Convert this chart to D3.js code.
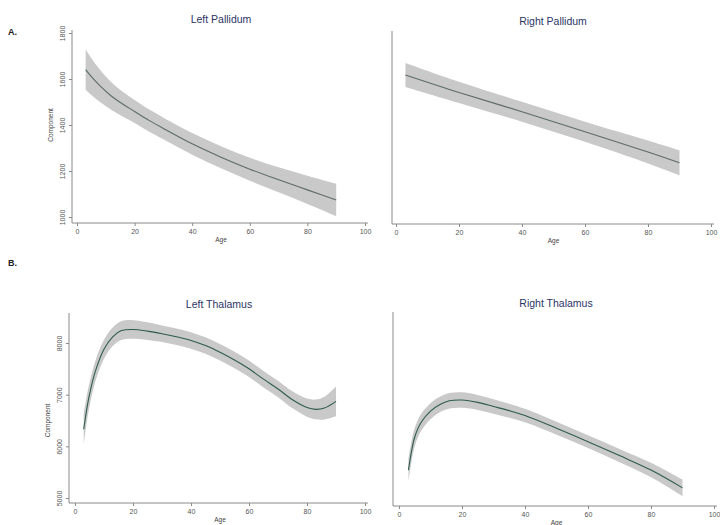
<!DOCTYPE html>
<html><head><meta charset="utf-8">
<script src="https://cdn.jsdelivr.net/npm/d3@7"></script>
<style>body{margin:0;background:#fff}svg{display:block}</style>
</head><body><svg id="c" width="720" height="525"></svg>
<script>
// ---- data ----
const xTicks = [0, 20, 40, 60, 80, 100];
const pallidumTicks = [1000, 1200, 1400, 1600, 1800];
const thalamusTicks = [5000, 6000, 7000, 8000];

const lpAge = [3, 5, 8, 12, 16, 20, 25, 30, 40, 50, 60, 70, 80, 90];
const lpFit = [1641, 1610, 1570, 1525, 1490, 1459, 1420, 1385, 1318, 1260, 1208, 1162, 1118, 1074];
const lpHalf = [88, 80, 70, 60, 54, 50, 48, 47, 47, 48, 50, 54, 61, 70];

const rpAge = [3, 20, 40, 60, 80, 90];
const rpFit = [1622, 1546, 1462, 1375, 1287, 1240];
const rpHalf = [52, 46, 43, 44, 50, 54];

const ltAge = [3, 4, 5, 7, 10, 13, 16, 20, 25, 30, 35, 40, 45, 50, 55, 60, 65, 70, 75, 80, 83, 86, 90];
const ltFit = [6330, 6700, 7000, 7450, 7880, 8120, 8240, 8262, 8230, 8180, 8120, 8050, 7950, 7820, 7670, 7500, 7300, 7110, 6900, 6750, 6715, 6740, 6870];
const ltHalf = [300, 260, 230, 200, 185, 180, 180, 180, 170, 160, 160, 160, 160, 160, 160, 160, 160, 160, 165, 175, 190, 220, 290];

const rtAge = [3, 4, 5, 7, 10, 13, 16, 20, 25, 30, 35, 40, 50, 60, 70, 80, 90];
const rtFit = [5560, 5930, 6200, 6480, 6700, 6830, 6900, 6915, 6870, 6790, 6710, 6615, 6370, 6110, 5840, 5560, 5215];
const rtHalf = [220, 200, 180, 165, 155, 150, 150, 150, 145, 140, 135, 130, 125, 125, 130, 140, 160];

// ---- drawing ----
const svg = d3.select("#c");
const font = "Liberation Sans, Arial, sans-serif";
const curve = d3.curveCatmullRom.alpha(0.5);

function panel(o) {
  const g = svg.append("g");
  const x = d3.scaleLinear().domain([0, 100]).range(o.xr);
  const y = d3.scaleLinear().domain(o.yd).range(o.yr);
  const pts = o.age.map((a, i) => ({a, f: o.fit[i], h: o.half[i]}));
  g.append("path").datum(pts)
    .attr("d", d3.area().curve(curve)
      .x(d => x(d.a)).y0(d => y(d.f - d.h)).y1(d => y(d.f + d.h)))
    .attr("fill", "#c9c9c9");
  g.append("path").datum(pts)
    .attr("d", d3.line().curve(curve).x(d => x(d.a)).y(d => y(d.f)))
    .attr("fill", "none").attr("stroke", o.lineColor).attr("stroke-width", 1.1);

  // x axis
  const xa = g.append("g").attr("transform", `translate(0,${o.xAxisY})`)
    .call(d3.axisBottom(x).tickValues(xTicks).tickFormat(d3.format("d")).tickSize(3).tickSizeOuter(0).tickPadding(3));
  xa.select(".domain").attr("d", `M${o.yAxisX},0H${o.xr[1] + 3}`).attr("stroke", "#8a8a8a");
  xa.selectAll(".tick line").attr("stroke", "#8a8a8a");
  xa.selectAll("text").attr("font-family", font).attr("font-size", 7).attr("fill", "#555");

  // y axis
  const ya = g.append("g").attr("transform", `translate(${o.yAxisX},0)`)
    .call(d3.axisLeft(y).tickValues(o.showY ? o.yTicks : []).tickFormat(d3.format("d")).tickSize(3).tickSizeOuter(0).tickPadding(2));
  ya.select(".domain").attr("d", `M0,${o.xAxisY}V${o.yTop}`).attr("stroke", "#8a8a8a");
  ya.selectAll(".tick line").attr("stroke", "#8a8a8a");
  ya.selectAll("text").attr("font-family", font).attr("font-size", 7).attr("fill", "#555")
    .attr("text-anchor", "middle").attr("x", 0).attr("y", 0).attr("dy", 0)
    .attr("transform", "translate(-7,0) rotate(-90)");

  // titles
  g.append("text").attr("x", o.titleX).attr("y", o.titleY).attr("text-anchor", "middle")
    .attr("font-family", font).attr("font-size", 10.5).attr("fill", "#2b3566").text(o.title);
  g.append("text").attr("x", (o.xr[0] + o.xr[1]) / 2).attr("y", o.xAxisY + 19).attr("text-anchor", "middle")
    .attr("font-family", font).attr("font-size", 6.5).attr("fill", "#444").text("Age");
  if (o.showY) {
    g.append("text").attr("transform", `translate(${o.yAxisX - 19},${(o.yr[0] + o.yr[1]) / 2}) rotate(-90)`)
      .attr("text-anchor", "middle").attr("font-family", font).attr("font-size", 6.5).attr("fill", "#444").text("Component");
  }
}

panel({title: "Left Pallidum", titleX: 221, titleY: 23, age: lpAge, fit: lpFit, half: lpHalf,
  xr: [77, 365], yd: [1000, 1800], yr: [217, 33], yTicks: pallidumTicks, showY: true,
  yAxisX: 72, xAxisY: 223, yTop: 30, lineColor: "#5d6c66"});
panel({title: "Right Pallidum", titleX: 553, titleY: 25, age: rpAge, fit: rpFit, half: rpHalf,
  xr: [396, 711], yd: [1000, 1800], yr: [218, 34], yTicks: pallidumTicks, showY: false,
  yAxisX: 392, xAxisY: 224, yTop: 31, lineColor: "#5d6c66"});
panel({title: "Left Thalamus", titleX: 219, titleY: 308, age: ltAge, fit: ltFit, half: ltHalf,
  xr: [75, 365], yd: [5000, 8000], yr: [498, 343], yTicks: thalamusTicks, showY: true,
  yAxisX: 69, xAxisY: 503, yTop: 313, lineColor: "#2e5b4d"});
panel({title: "Right Thalamus", titleX: 556, titleY: 307, age: rtAge, fit: rtFit, half: rtHalf,
  xr: [399, 714], yd: [5000, 8000], yr: [499, 344], yTicks: thalamusTicks, showY: false,
  yAxisX: 393, xAxisY: 506, yTop: 312, lineColor: "#2e5b4d"});

svg.append("text").attr("x", 8).attr("y", 35).attr("font-family", font).attr("font-weight", "bold")
  .attr("font-size", 9).attr("fill", "#222").text("A.");
svg.append("text").attr("x", 8).attr("y", 266).attr("font-family", font).attr("font-weight", "bold")
  .attr("font-size", 9).attr("fill", "#222").text("B.");
</script></body></html>
